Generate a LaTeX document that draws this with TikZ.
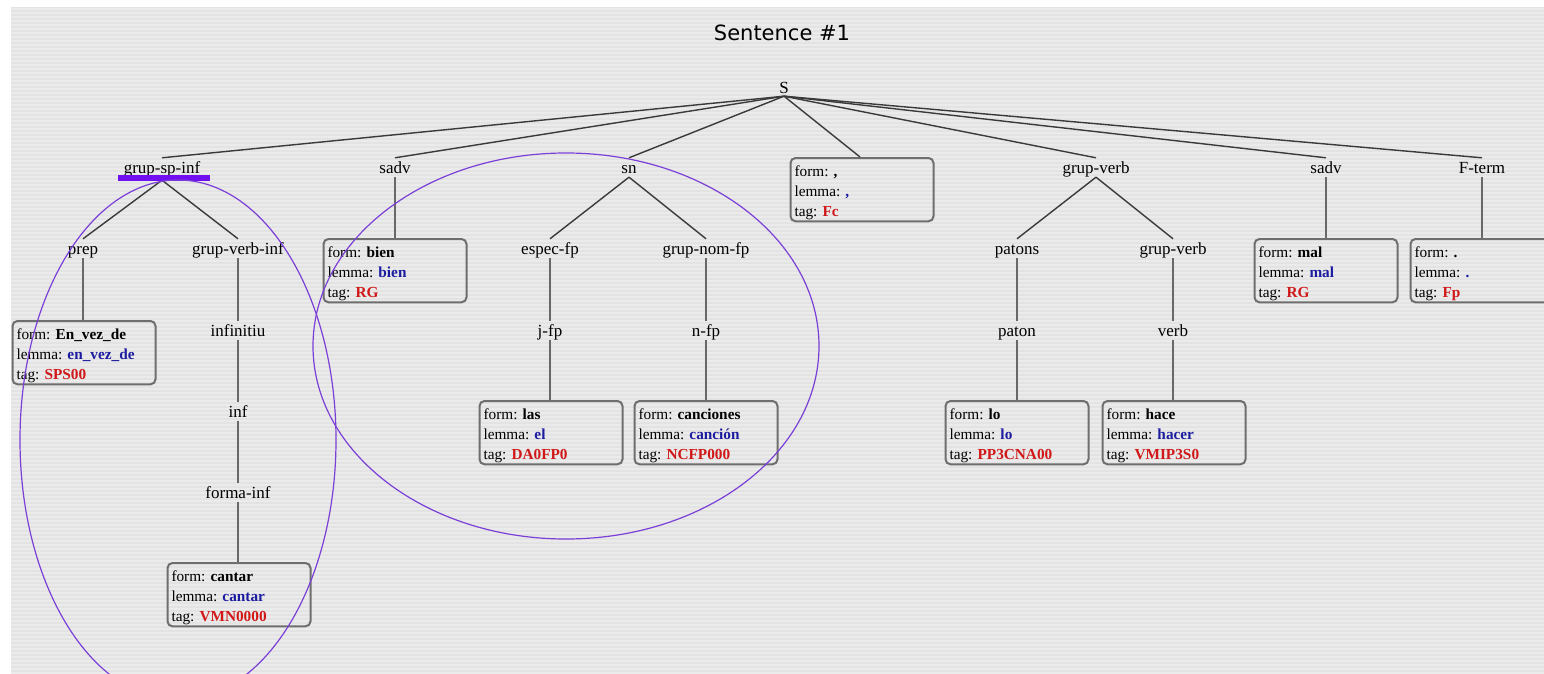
\documentclass[tikz,border=0pt]{standalone}
\usepackage{fontspec}
\setmainfont{Liberation Serif}
\newfontfamily\titlefont{DejaVu Sans}
\frenchspacing

\definecolor{panel}{HTML}{E3E3E3}
\definecolor{panelstripe}{HTML}{EBEBEB}
\definecolor{boxgray}{HTML}{6E6E6E}
\definecolor{branchcol}{HTML}{3A3A3A}
\definecolor{stemcol}{HTML}{686868}
\definecolor{ringcol}{HTML}{7B3FD8}
\definecolor{barviolet}{HTML}{7010F0}
\definecolor{lemmablue}{HTML}{1C1CA0}
\definecolor{tagred}{HTML}{D01818}

% three-line word description: form, lemma, tag
\newcommand\wordinfo[3]{\rule{0pt}{16pt}form: \textbf{#1}\\
  lemma: \textcolor{lemmablue}{\textbf{#2}}\\
  tag: \textcolor{tagred}{\textbf{#3}}\rule[-2pt]{0pt}{2pt}}

\begin{document}
\begin{tikzpicture}[x=1pt,y=-1pt,
  lbl/.style={inner xsep=2pt, inner ysep=2pt, text height=13pt, text depth=2pt,
    anchor=base, font=\fontsize{17}{20}\selectfont},
  wordbox/.style={draw=boxgray, line width=2pt, rounded corners=5pt,
    text width=135pt, inner xsep=4pt, inner ysep=2pt, align=left,
    anchor=north, font=\fontsize{15.3}{20}\selectfont},
  branch/.style={draw=branchcol, line width=1.4pt},
  stem/.style={draw=stemcol, line width=2pt},
  ring/.style={draw=ringcol, line width=1.2pt},
  stripe/.style={draw=panelstripe, line width=1.6pt}]

\useasboundingbox (0,0) rectangle (1544,674);
\fill[white] (0,0) rectangle (1544,674);
\fill[panel] (11,7) rectangle (1544,674);
\foreach \yy in {9,13,...,673} \draw[stripe] (11,\yy) -- (1544,\yy);

% title and root
\node[anchor=base, font=\titlefont\fontsize{21}{24}\selectfont] (title) at (782,41) {Sentence \#1};
\node[lbl, text height=11pt, text depth=0pt] (S) at (784,94) {S};

% first level
\node[lbl] (gspi)  at (162,173)  {grup-sp-inf};
\node[lbl] (sadvA) at (395,173)  {sadv};
\node[lbl] (sn)    at (629,173)  {sn};
\node[lbl] (gv)    at (1096,173) {grup-verb};
\node[lbl] (sadvB) at (1326,173) {sadv};
\node[lbl] (fterm) at (1482,173) {F-term};

% second level
\node[lbl] (prep)   at (83,254)   {prep};
\node[lbl] (gvi)    at (238,254)  {grup-verb-inf};
\node[lbl] (espec)  at (550,254)  {espec-fp};
\node[lbl] (gnom)   at (706,254)  {grup-nom-fp};
\node[lbl] (patons) at (1017,254) {patons};
\node[lbl] (gvB)    at (1173,254) {grup-verb};

% third level and below
\node[lbl] (infinitiu) at (238,336)  {infinitiu};
\node[lbl] (jfp)       at (550,336)  {j-fp};
\node[lbl] (nfp)       at (706,336)  {n-fp};
\node[lbl] (paton)     at (1017,336) {paton};
\node[lbl] (verb)      at (1173,336) {verb};
\node[lbl] (inf)       at (238,417)  {inf};
\node[lbl] (formainf)  at (238,498)  {forma-inf};

% word boxes
\node[wordbox] (bEnvez) at (84,320)   {\wordinfo{En\_vez\_de}{en\_vez\_de}{SPS00}};
\node[wordbox] (bcantar) at (239,562) {\wordinfo{cantar}{cantar}{VMN0000}};
\node[wordbox] (bbien) at (395,238)   {\wordinfo{bien}{bien}{RG}};
\node[wordbox] (blas) at (551,400)    {\wordinfo{las}{el}{DA0FP0}};
\node[wordbox] (bcanc) at (706,400)   {\wordinfo{canciones}{canción}{NCFP000}};
\node[wordbox] (bcomma) at (862,157)  {\wordinfo{,}{,}{Fc}};
\node[wordbox] (blo) at (1017,400)    {\wordinfo{lo}{lo}{PP3CNA00}};
\node[wordbox] (bhace) at (1174,400)  {\wordinfo{hace}{hacer}{VMIP3S0}};
\node[wordbox] (bmal) at (1326,238)   {\wordinfo{mal}{mal}{RG}};
\node[wordbox] (bfp) at (1482,238)    {\wordinfo{.}{.}{Fp}};

% branches from the root
\foreach \k in {gspi,sadvA,sn,gv,sadvB,fterm} \draw[branch] (S.south) -- (\k.north);
\draw[branch] (S.south) -- ([xshift=-2pt]bcomma.north);

% inner branches
\draw[branch] ([yshift=-3pt]gspi.south) -- (prep.north);
\draw[branch] ([yshift=-3pt]gspi.south) -- (gvi.north);
\draw[branch] (sn.south) -- (espec.north);
\draw[branch] (sn.south) -- (gnom.north);
\draw[branch] (gv.south) -- (patons.north);
\draw[branch] (gv.south) -- (gvB.north);

% unary chains down to the words
\draw[stem] (prep.south) -- (prep.south |- bEnvez.north);
\draw[stem] (gvi.south) -- (infinitiu.north);
\draw[stem] (infinitiu.south) -- (inf.north);
\draw[stem] (inf.south) -- (formainf.north);
\draw[stem] (formainf.south) -- (formainf.south |- bcantar.north);
\draw[stem] (sadvA.south) -- (sadvA.south |- bbien.north);
\draw[stem] (espec.south) -- (jfp.north);
\draw[stem] (jfp.south) -- (jfp.south |- blas.north);
\draw[stem] (gnom.south) -- (nfp.north);
\draw[stem] (nfp.south) -- (nfp.south |- bcanc.north);
\draw[stem] (patons.south) -- (paton.north);
\draw[stem] (paton.south) -- (paton.south |- blo.north);
\draw[stem] (gvB.south) -- (verb.north);
\draw[stem] (verb.south) -- (verb.south |- bhace.north);
\draw[stem] (sadvB.south) -- (sadvB.south |- bmal.north);
\draw[stem] (fterm.south) -- (fterm.south |- bfp.north);

% highlight bar under the selected constituent
\fill[barviolet] (118,175) rectangle (210,181);

% hand-drawn groupings
\draw[ring] (178,440) ellipse [x radius=158pt, y radius=260pt];
\draw[ring] (566,346) ellipse [x radius=253pt, y radius=193pt];
\end{tikzpicture}
\end{document}
